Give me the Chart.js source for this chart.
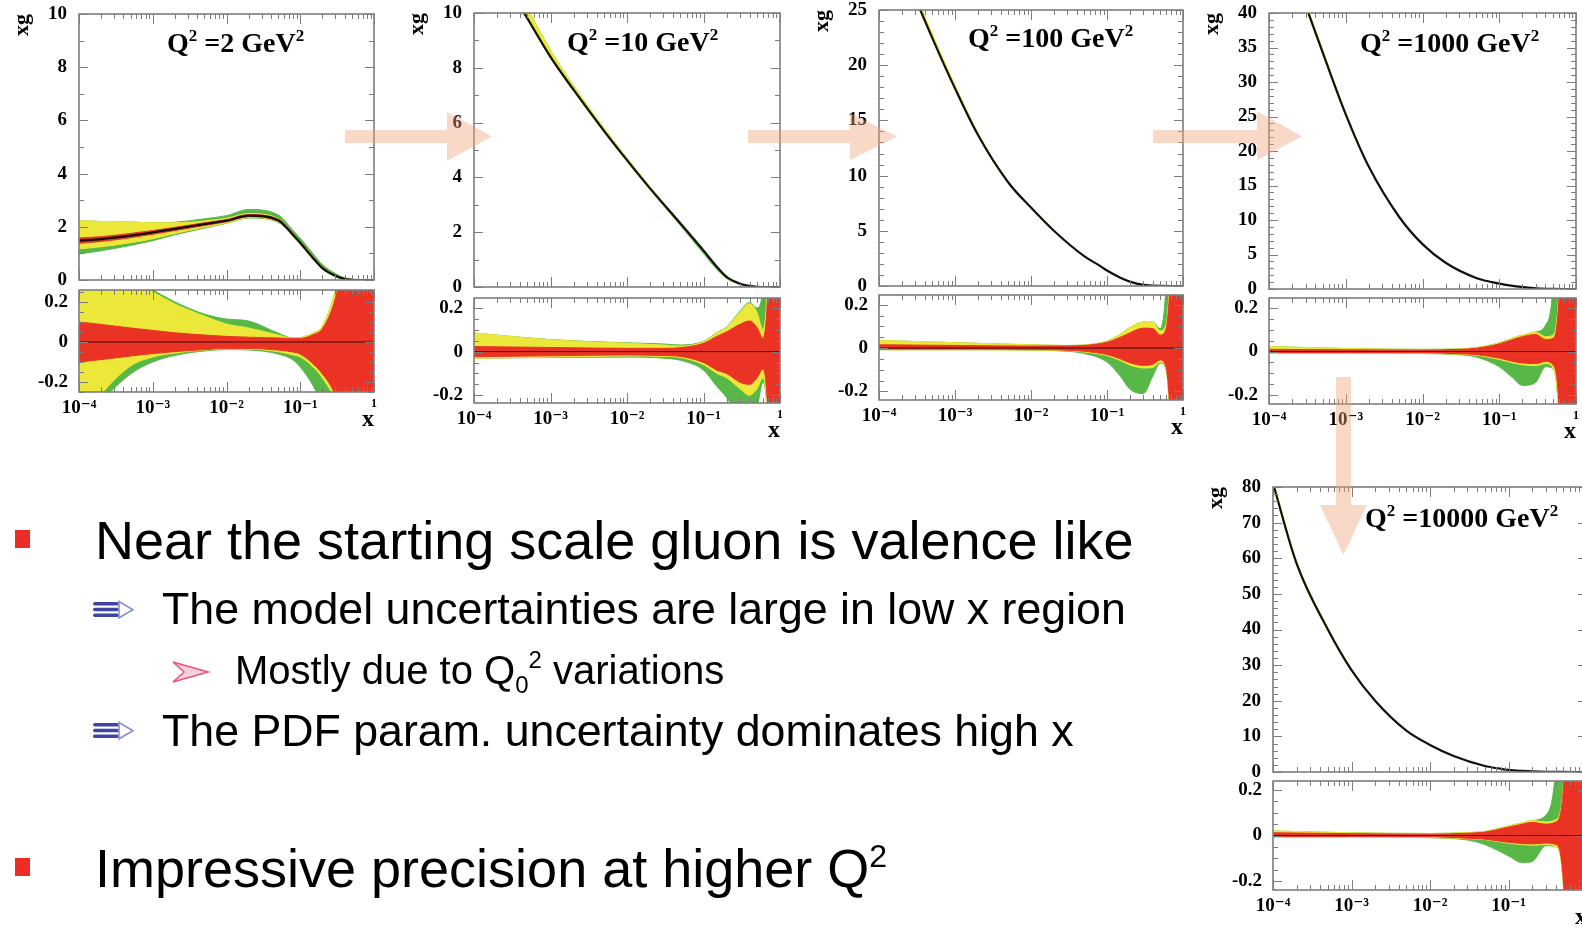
<!DOCTYPE html>
<html>
<head>
<meta charset="utf-8">
<script src="https://cdn.jsdelivr.net/npm/chart.js@4.4.1/dist/chart.umd.min.js"></script>
<style>
  html, body { margin: 0; padding: 0; background: #fff; }
  body { position: relative; width: 1582px; height: 928px; overflow: hidden; }
  canvas { position: absolute; z-index: 1; }
  .t { position: absolute; z-index: 3; font-family: "Liberation Sans", Arial, sans-serif; color: #000; white-space: nowrap; line-height: 1; }
  .q { position: absolute; z-index: 3; font-family: "Liberation Serif", "Times New Roman", serif; font-weight: bold; font-size: 28px; white-space: nowrap; line-height: 1; }
  .q span { font-size: 17px; position: relative; top: -11px; }
  .bul { position: absolute; z-index: 3; width: 15px; height: 18px; background: #ee2b24; }
  svg.ov { position: absolute; left: 0; top: 0; z-index: 2; pointer-events: none; }
</style>
</head>
<body>

<div class="q" style="left:167px;top:29px">Q<span>2</span> =2 GeV<span>2</span></div>
<div class="q" style="left:567px;top:28px">Q<span>2</span> =10 GeV<span>2</span></div>
<div class="q" style="left:968px;top:24px">Q<span>2</span> =100 GeV<span>2</span></div>
<div class="q" style="left:1360px;top:29px">Q<span>2</span> =1000 GeV<span>2</span></div>
<div class="q" style="left:1365px;top:504px">Q<span>2</span> =10000 GeV<span>2</span></div>

<div class="bul" style="left:15px;top:530px"></div>
<div class="t" style="left:95px;top:513px;font-size:54px">Near the starting scale gluon is valence like</div>
<div class="t" style="left:162px;top:587px;font-size:44.7px">The model uncertainties are large in low x region</div>
<div class="t" style="left:235px;top:650px;font-size:40px">Mostly due to Q<span style="font-size:24px;position:relative;top:9px">0</span><span style="font-size:24px;position:relative;top:-16px">2</span> variations</div>
<div class="t" style="left:162px;top:709px;font-size:44.7px">The PDF param. uncertainty dominates high x</div>
<div class="bul" style="left:15px;top:858px"></div>
<div class="t" style="left:95px;top:841px;font-size:54px">Impressive precision at higher Q<span style="font-size:32px;position:relative;top:-20px">2</span></div>

<svg class="ov" width="1582" height="928">
  <g fill="rgba(238,165,125,0.42)">
    <polygon points="345,130 447,130 447,112 492,136.5 447,161 447,143 345,143"/>
    <polygon points="748,130 850,130 850,113 897,136.5 850,160 850,143 748,143"/>
    <polygon points="1153,130 1257,130 1257,111 1302,136.5 1257,160 1257,143 1153,143"/>
    <polygon points="1336,377 1351,377 1351,505 1367,505 1343.5,555 1320,505 1336,505"/>
  </g>
  <g fill="#3e45a6">
    <rect x="93" y="602" width="26" height="3.6" rx="1.8"/>
    <rect x="93" y="607.7" width="26" height="3.6" rx="1.8"/>
    <rect x="93" y="613.4" width="26" height="3.6" rx="1.8"/>
    <rect x="93" y="723" width="26" height="3.6" rx="1.8"/>
    <rect x="93" y="728.7" width="26" height="3.6" rx="1.8"/>
    <rect x="93" y="734.4" width="26" height="3.6" rx="1.8"/>
  </g>
  <g fill="none" stroke="#8a8fd0" stroke-width="1.6">
    <polygon points="119,601.5 133,609.7 119,617.8"/>
    <polygon points="119,722.5 133,730.7 119,738.8"/>
  </g>
  <polygon points="173,662 208,672 173,682 184,672" fill="rgba(240,120,150,0.35)" stroke="#e9557c" stroke-width="1.6"/>
</svg>

<script>
// axis tick labels for x
const decades = [1e-4, 1e-3, 1e-2, 1e-1, 1];
const decadeLabels = ['10⁻⁴', '10⁻³', '10⁻²', '10⁻¹', '1'];
const ratioTicks = [-0.2, 0, 0.2];

// x sampling of the curves
const xTop = [1e-4, 2e-4, 5e-4, 1e-3, 2e-3, 5e-3, 1e-2, 2e-2, 5e-2, 0.08, 0.1, 0.15, 0.2, 0.3, 0.4, 0.5, 0.7, 1];
const xRat = [1e-4, 1e-3, 1e-2, 3e-2, 0.05, 0.1, 0.15, 0.2, 0.3, 0.4, 0.5, 0.6, 0.7, 0.8, 0.9, 1];

/**** Q2 = 2 GeV2 ****/
const q2Center      = [1.48, 1.54, 1.67, 1.79, 1.92, 2.10, 2.23, 2.42, 2.25, 1.70, 1.40, 0.82, 0.45, 0.16, 0.04, 0.01, 0, 0];
const q2TopGreenUp  = [2.23, 2.20, 2.18, 2.15, 2.17, 2.30, 2.42, 2.65, 2.45, 1.86, 1.57, 0.98, 0.58, 0.24, 0.08, 0.02, 0, 0];
const q2TopGreenDn  = [0.98, 1.10, 1.30, 1.48, 1.70, 1.95, 2.13, 2.33, 2.17, 1.63, 1.34, 0.76, 0.40, 0.12, 0.03, 0, 0, 0];
const q2TopYellowUp = [2.23, 2.20, 2.18, 2.15, 2.15, 2.22, 2.32, 2.50, 2.31, 1.75, 1.45, 0.87, 0.49, 0.19, 0.06, 0.02, 0, 0];
const q2TopYellowDn = [1.17, 1.25, 1.40, 1.55, 1.75, 1.98, 2.15, 2.35, 2.19, 1.65, 1.36, 0.78, 0.42, 0.13, 0.03, 0, 0, 0];
const q2TopRedUp    = [1.58, 1.63, 1.75, 1.86, 1.98, 2.15, 2.27, 2.46, 2.29, 1.74, 1.44, 0.85, 0.47, 0.17, 0.045, 0.01, 0, 0];
const q2TopRedDn    = [1.38, 1.45, 1.59, 1.72, 1.86, 2.05, 2.19, 2.38, 2.21, 1.66, 1.36, 0.79, 0.43, 0.15, 0.035, 0.01, 0, 0];
const q2RatGreenUp  = [0.45, 0.40, 0.31, 0.26, 0.20, 0.14, 0.115, 0.105, 0.045, 0.02, 0.022, 0.045, 0.08, 0.26, 0.5, 0.75, 1, 1];
const q2RatYellowUp = [0.45, 0.40, 0.30, 0.25, 0.19, 0.13, 0.09, 0.07, 0.035, 0.02, 0.022, 0.045, 0.08, 0.26, 0.5, 0.75, 1, 1];
const q2RatRedUp    = [0.10, 0.088, 0.07, 0.058, 0.046, 0.035, 0.028, 0.024, 0.02, 0.018, 0.018, 0.037, 0.067, 0.22, 0.45, 0.7, 1, 1];
const q2RatRedDn    = [-0.10, -0.088, -0.07, -0.058, -0.048, -0.038, -0.033, -0.033, -0.04, -0.05, -0.06, -0.11, -0.16, -0.27, -0.45, -0.65, -1, -1];
const q2RatYellowDn = [-0.40, -0.26, -0.12, -0.075, -0.055, -0.04, -0.036, -0.036, -0.048, -0.065, -0.075, -0.125, -0.18, -0.30, -0.47, -0.67, -1, -1];
const q2RatGreenDn  = [-0.45, -0.30, -0.16, -0.10, -0.067, -0.045, -0.038, -0.04, -0.06, -0.09, -0.125, -0.22, -0.32, -0.50, -0.7, -0.9, -1, -1];

/**** Q2 = 10 GeV2 ****/
const q10Center      = [13.1, 11.65, 9.8, 8.4, 7.2, 5.7, 4.63, 3.6, 2.32, 1.65, 1.33, 0.73, 0.37, 0.12, 0.04, 0.01, 0, 0];
const q10TopGreenUp  = [13.6, 12.05, 10.15, 8.65, 7.35, 5.8, 4.7, 3.65, 2.35, 1.68, 1.36, 0.75, 0.39, 0.13, 0.045, 0.01, 0, 0];
const q10TopGreenDn  = [13.0, 11.55, 9.75, 8.35, 7.15, 5.66, 4.59, 3.55, 2.24, 1.55, 1.22, 0.64, 0.31, 0.10, 0.03, 0.01, 0, 0];
const q10TopYellowUp = [13.6, 12.05, 10.15, 8.65, 7.35, 5.8, 4.7, 3.65, 2.35, 1.68, 1.36, 0.75, 0.39, 0.13, 0.045, 0.01, 0, 0];
const q10TopYellowDn = [13.0, 11.55, 9.75, 8.35, 7.15, 5.66, 4.59, 3.56, 2.29, 1.62, 1.30, 0.71, 0.35, 0.11, 0.035, 0.01, 0, 0];
const q10RatGreenUp  = [0.085, 0.055, 0.04, 0.035, 0.03, 0.047, 0.087, 0.112, 0.185, 0.225, 0.2, 0.3, 1, 1, 1, 1];
const q10RatYellowUp = [0.085, 0.054, 0.038, 0.03, 0.025, 0.045, 0.085, 0.11, 0.18, 0.22, 0.18, 0.1, 0.35, 1, 1, 1];
const q10RatRedUp    = [0.023, 0.019, 0.015, 0.015, 0.018, 0.038, 0.07, 0.09, 0.125, 0.14, 0.11, 0.06, 0.3, 1, 1, 1];
const q10RatRedDn    = [-0.023, -0.019, -0.015, -0.018, -0.022, -0.05, -0.085, -0.1, -0.14, -0.15, -0.12, -0.08, -0.3, -1, -1, -1];
const q10RatYellowDn = [-0.03, -0.025, -0.02, -0.022, -0.027, -0.06, -0.1, -0.12, -0.17, -0.2, -0.17, -0.12, -0.35, -1, -1, -1];
const q10RatGreenDn  = [-0.03, -0.027, -0.025, -0.03, -0.04, -0.085, -0.16, -0.21, -0.3, -0.35, -0.26, -0.14, -0.35, -1, -1, -1];

/**** Q2 = 100 GeV2 ****/
const q100Center      = [34.1, 29.0, 22.5, 17.9, 13.7, 9.4, 7.1, 5.0, 2.7, 1.85, 1.4, 0.75, 0.4, 0.1, 0.03, 0.01, 0, 0];
const q100TopYellowUp = [34.6, 29.5, 22.9, 18.2, 13.9, 9.5, 7.17, 5.05, 2.73, 1.87, 1.42, 0.76, 0.41, 0.1, 0.03, 0.01, 0, 0];
const q100TopYellowDn = [33.9, 28.8, 22.4, 17.8, 13.62, 9.35, 7.06, 4.97, 2.68, 1.83, 1.38, 0.74, 0.39, 0.1, 0.03, 0.01, 0, 0];
const q100RatGreenUp  = [0.035, 0.025, 0.015, 0.012, 0.014, 0.032, 0.065, 0.095, 0.12, 0.12, 0.09, 0.3, 1, 1, 1, 1];
const q100RatYellowUp = [0.035, 0.025, 0.015, 0.012, 0.014, 0.032, 0.065, 0.095, 0.12, 0.12, 0.08, 0.11, 0.45, 1, 1, 1];
const q100RatRedUp    = [0.015, 0.012, 0.009, 0.01, 0.012, 0.027, 0.05, 0.07, 0.092, 0.09, 0.06, 0.09, 0.4, 1, 1, 1];
const q100RatRedDn    = [-0.005, -0.005, -0.006, -0.01, -0.015, -0.03, -0.05, -0.068, -0.08, -0.075, -0.055, -0.09, -0.4, -1, -1, -1];
const q100RatYellowDn = [-0.008, -0.008, -0.009, -0.012, -0.018, -0.035, -0.058, -0.078, -0.092, -0.09, -0.065, -0.1, -0.45, -1, -1, -1];
const q100RatGreenDn  = [-0.008, -0.008, -0.01, -0.015, -0.025, -0.065, -0.13, -0.19, -0.21, -0.13, -0.07, -0.1, -0.45, -1, -1, -1];

/**** Q2 = 1000 GeV2 ****/
const q1000Center      = [57, 46.7, 34.3, 25.3, 17.7, 10.4, 6.5, 3.8, 1.6, 1.0, 0.77, 0.45, 0.29, 0.1, 0.03, 0.01, 0, 0];
const q1000TopYellowUp = [57.6, 47.2, 34.7, 25.6, 17.9, 10.5, 6.55, 3.83, 1.62, 1.01, 0.78, 0.46, 0.3, 0.1, 0.03, 0.01, 0, 0];
const q1000TopYellowDn = [56.8, 46.5, 34.1, 25.2, 17.62, 10.35, 6.47, 3.78, 1.59, 0.99, 0.76, 0.44, 0.28, 0.1, 0.03, 0.01, 0, 0];
const q1000RatGreenUp  = [0.023, 0.014, 0.01, 0.012, 0.018, 0.04, 0.062, 0.076, 0.09, 0.12, 0.3, 1, 1, 1, 1, 1];
const q1000RatYellowUp = [0.023, 0.014, 0.01, 0.012, 0.018, 0.04, 0.062, 0.076, 0.088, 0.068, 0.075, 0.28, 1, 1, 1, 1];
const q1000RatRedUp    = [0.01, 0.008, 0.007, 0.01, 0.015, 0.035, 0.055, 0.068, 0.078, 0.055, 0.06, 0.25, 1, 1, 1, 1];
const q1000RatRedDn    = [-0.005, -0.005, -0.006, -0.01, -0.014, -0.03, -0.045, -0.052, -0.055, -0.045, -0.06, -0.25, -1, -1, -1, -1];
const q1000RatYellowDn = [-0.008, -0.007, -0.008, -0.012, -0.017, -0.036, -0.052, -0.06, -0.065, -0.055, -0.075, -0.3, -1, -1, -1, -1];
const q1000RatGreenDn  = [-0.008, -0.007, -0.009, -0.015, -0.025, -0.07, -0.12, -0.155, -0.14, -0.07, -0.078, -0.3, -1, -1, -1, -1];

/**** Q2 = 10000 GeV2 ****/
const q10000Center      = [81, 58.5, 40, 28.6, 20, 11.6, 7.6, 4.5, 1.7, 0.9, 0.6, 0.3, 0.15, 0.05, 0.02, 0.01, 0, 0];
const q10000TopYellowUp = [82, 59.2, 40.5, 29.0, 20.2, 11.7, 7.65, 4.53, 1.72, 0.91, 0.61, 0.3, 0.15, 0.05, 0.02, 0.01, 0, 0];
const q10000TopYellowDn = [80.7, 58.2, 39.8, 28.5, 19.93, 11.55, 7.57, 4.48, 1.69, 0.89, 0.59, 0.3, 0.15, 0.05, 0.02, 0.01, 0, 0];
const q10000RatGreenUp  = [0.02, 0.012, 0.009, 0.013, 0.018, 0.042, 0.056, 0.066, 0.09, 0.3, 1, 1, 1, 1, 1, 1];
const q10000RatYellowUp = [0.02, 0.012, 0.009, 0.013, 0.018, 0.042, 0.056, 0.066, 0.06, 0.07, 0.22, 1, 1, 1, 1, 1];
const q10000RatRedUp    = [0.012, 0.008, 0.006, 0.01, 0.015, 0.037, 0.05, 0.058, 0.05, 0.06, 0.2, 1, 1, 1, 1, 1];
const q10000RatRedDn    = [-0.004, -0.004, -0.005, -0.012, -0.016, -0.03, -0.035, -0.037, -0.033, -0.04, -0.2, -1, -1, -1, -1, -1];
const q10000RatYellowDn = [-0.007, -0.006, -0.008, -0.014, -0.018, -0.034, -0.04, -0.043, -0.04, -0.05, -0.22, -1, -1, -1, -1, -1];
const q10000RatGreenDn  = [-0.007, -0.006, -0.01, -0.02, -0.04, -0.09, -0.12, -0.115, -0.045, -0.05, -0.22, -1, -1, -1, -1, -1];

const GREEN = '#58b847', YELLOW = '#ece83a', RED = '#ea3324';
const SERIF = '"Liberation Serif", "DejaVu Serif", serif';
const tickFont = {family: SERIF, size: 19, weight: 'bold'};

// boxes: L/W plot left & width, top plot T/H, ratio plot T/H
const panels = [
  {L: 79, W: 295, tT: 14, tH: 266, rT: 290, rH: 102, yMax: 10, yStep: 2, yMinor: 1, rMin: -0.25, rMax: 0.26,
   center: q2Center,
   top: [[q2TopGreenUp, q2TopGreenDn, GREEN], [q2TopYellowUp, q2TopYellowDn, YELLOW], [q2TopRedUp, q2TopRedDn, RED]],
   rx: xTop,
   rat: [[q2RatGreenUp, q2RatGreenDn, GREEN], [q2RatYellowUp, q2RatYellowDn, YELLOW], [q2RatRedUp, q2RatRedDn, RED]]},
  {L: 474, W: 306, tT: 13, tH: 274, rT: 298, rH: 105, yMax: 10, yStep: 2, yMinor: 1, rMin: -0.235, rMax: 0.245,
   center: q10Center,
   top: [[q10TopGreenUp, q10TopGreenDn, GREEN], [q10TopYellowUp, q10TopYellowDn, YELLOW]],
   rx: xRat,
   rat: [[q10RatGreenUp, q10RatGreenDn, GREEN], [q10RatYellowUp, q10RatYellowDn, YELLOW], [q10RatRedUp, q10RatRedDn, RED]]},
  {L: 879, W: 304, tT: 10, tH: 276, rT: 295, rH: 105, yMax: 25, yStep: 5, yMinor: 1, rMin: -0.24, rMax: 0.245,
   center: q100Center,
   top: [[q100TopYellowUp, q100TopYellowDn, YELLOW]],
   rx: xRat,
   rat: [[q100RatGreenUp, q100RatGreenDn, GREEN], [q100RatYellowUp, q100RatYellowDn, YELLOW], [q100RatRedUp, q100RatRedDn, RED]]},
  {L: 1269, W: 307, tT: 13, tH: 276, rT: 298, rH: 106, yMax: 40, yStep: 5, yMinor: 1, rMin: -0.24, rMax: 0.245,
   center: q1000Center,
   top: [[q1000TopYellowUp, q1000TopYellowDn, YELLOW]],
   rx: xRat,
   rat: [[q1000RatGreenUp, q1000RatGreenDn, GREEN], [q1000RatYellowUp, q1000RatYellowDn, YELLOW], [q1000RatRedUp, q1000RatRedDn, RED]]},
  {L: 1273, W: 314, tT: 487, tH: 285, rT: 781, rH: 109, yMax: 80, yStep: 10, yMinor: 2, rMin: -0.24, rMax: 0.24,
   center: q10000Center,
   top: [[q10000TopYellowUp, q10000TopYellowDn, YELLOW]],
   rx: xRat,
   rat: [[q10000RatGreenUp, q10000RatGreenDn, GREEN], [q10000RatYellowUp, q10000RatYellowDn, YELLOW], [q10000RatRedUp, q10000RatRedDn, RED]]}
];

/**** frame with inward ROOT-style ticks ****/
const frame = {
  id: 'frame',
  afterDatasetsDraw(chart, args, o) {
    const {ctx, chartArea: a} = chart;
    const x = chart.scales.x, y = chart.scales.y;
    ctx.save();
    ctx.strokeStyle = '#7d7d7d';
    ctx.lineWidth = 1;
    ctx.beginPath();
    decades.forEach(d => {
      for (let m = 1; m <= 9; m++) {
        const v = d * m;
        if (v > 1.0001) break;
        const px = Math.round(x.getPixelForValue(v)) + 0.5;
        const len = m === 1 ? 10 : 5;
        ctx.moveTo(px, a.bottom); ctx.lineTo(px, a.bottom - len);
        ctx.moveTo(px, a.top); ctx.lineTo(px, a.top + len);
      }
    });
    const n0 = Math.ceil(y.min / o.minor - 1e-6), n1 = Math.floor(y.max / o.minor + 1e-6);
    for (let n = n0; n <= n1; n++) {
      const v = n * o.minor;
      const r = v / o.major;
      const len = Math.abs(r - Math.round(r)) < 1e-6 ? 9 : 5;
      const py = Math.round(y.getPixelForValue(v)) + 0.5;
      ctx.moveTo(a.left, py); ctx.lineTo(a.left + len, py);
      ctx.moveTo(a.right, py); ctx.lineTo(a.right - len, py);
    }
    ctx.stroke();
    ctx.lineWidth = 1.6;
    ctx.strokeRect(a.left, a.top, a.right - a.left, a.bottom - a.top);
    ctx.restore();
  }
};

function pts(xs, ys) { return xs.map((x, i) => ({x: x, y: ys[i]})); }

function bandSets(xs, bands) {
  const out = [];
  bands.forEach(([up, dn, col], k) => {
    const ord = 10 + bands.length - k;
    const base = {pointRadius: 0, borderWidth: 1, borderColor: col, backgroundColor: col,
                  cubicInterpolationMode: 'monotone', order: ord};
    out.push(Object.assign({data: pts(xs, up), fill: '+1'}, base));
    out.push(Object.assign({data: pts(xs, dn), fill: false}, base));
  });
  return out;
}

function makeCanvas(left, top, w, h) {
  const c = document.createElement('canvas');
  c.width = w; c.height = h;
  c.style.left = left + 'px'; c.style.top = top + 'px';
  c.style.width = w + 'px'; c.style.height = h + 'px';
  document.body.appendChild(c);
  return c;
}

// keep the plot boxes exactly where the layout padding puts them
function noPad(s) { s.paddingTop = 0; s.paddingBottom = 0; s.paddingLeft = 0; s.paddingRight = 0; }

const YW = 70;

panels.forEach(p => {
  // upper panel: xg
  const topSets = bandSets(xTop, p.top);
  topSets.push({data: pts(xTop, p.center), borderColor: '#111', borderWidth: 2.2, pointRadius: 0,
                fill: false, cubicInterpolationMode: 'monotone', order: 0});
  const c1 = makeCanvas(p.L - YW, p.tT - 14, YW + p.W + 12, 14 + p.tH + 12);
  new Chart(c1, {
    type: 'line',
    data: {datasets: topSets},
    options: {
      responsive: false, animation: false, events: [],
      layout: {padding: {top: 14, right: 12, bottom: 12, left: 0}},
      plugins: {legend: {display: false}, tooltip: {enabled: false},
                frame: {major: p.yStep, minor: p.yMinor}},
      scales: {
        x: {type: 'logarithmic', min: 1e-4, max: 1, display: false},
        y: {type: 'linear', min: 0, max: p.yMax,
            afterFit: s => { s.width = YW; noPad(s); },
            grid: {display: false, drawTicks: false}, border: {display: false},
            ticks: {stepSize: p.yStep, font: tickFont, color: '#000', padding: 12},
            title: {display: true, text: 'xg', align: 'end', color: '#000', padding: 0,
                    font: {family: SERIF, size: 22, weight: 'bold'}}}
      }
    },
    plugins: [frame]
  });

  // lower panel: relative uncertainty
  const ratSets = bandSets(p.rx, p.rat);
  ratSets.push({data: pts([1e-4, 1], [0, 0]), borderColor: '#3a0a0a', borderWidth: 1, pointRadius: 0,
                fill: false, order: 0});
  const c2 = makeCanvas(p.L - YW, p.rT - 10, YW + p.W + 14, 10 + p.rH + 45);
  new Chart(c2, {
    type: 'line',
    data: {datasets: ratSets},
    options: {
      responsive: false, animation: false, events: [],
      layout: {padding: {top: 10, right: 14, bottom: 0, left: 0}},
      plugins: {legend: {display: false}, tooltip: {enabled: false},
                frame: {major: 0.2, minor: 0.05}},
      scales: {
        x: {type: 'logarithmic', min: 1e-4, max: 1,
            afterFit: s => { s.height = 45; noPad(s); },
            afterBuildTicks: s => { s.ticks = decades.map(v => ({value: v})); },
            grid: {display: false, drawTicks: false}, border: {display: false},
            ticks: {autoSkip: false, maxRotation: 0, color: '#000', padding: 5,
                    font: c => (c.tick && c.tick.value === 1) ? {family: SERIF, size: 12, weight: 'bold'} : tickFont,
                    callback: (v, i) => decadeLabels[i]},
            title: {display: true, text: 'x', align: 'end', color: '#000', padding: {top: 0, bottom: 3},
                    font: {family: SERIF, size: 24, weight: 'bold'}}},
        y: {type: 'linear', min: p.rMin, max: p.rMax,
            afterFit: s => { s.width = YW; noPad(s); },
            afterBuildTicks: s => { s.ticks = ratioTicks.map(v => ({value: v})); },
            grid: {display: false, drawTicks: false}, border: {display: false},
            ticks: {font: tickFont, color: '#000', padding: 11,
                    callback: v => v === 0 ? '0' : String(v)}}
      }
    },
    plugins: [frame]
  });
});
</script>
</body>
</html>
